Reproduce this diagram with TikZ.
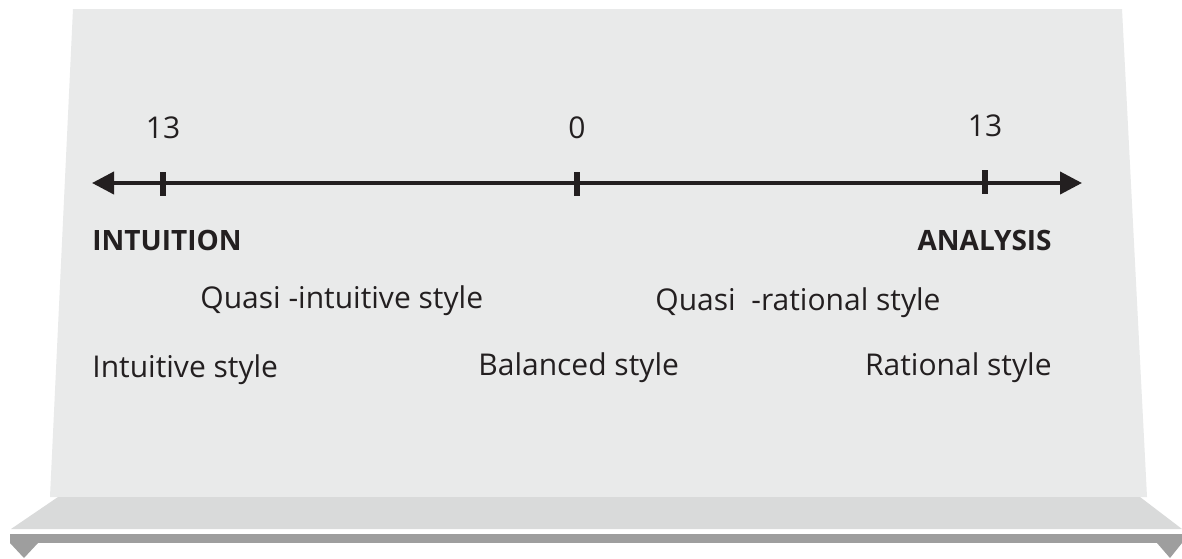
\documentclass[tikz,border=0pt]{standalone}
\usepackage{fontspec}
\setmainfont{Open Sans}
\usepackage{xcolor}
\usetikzlibrary{positioning,arrows.meta}
\definecolor{ink}{HTML}{231F20}
\definecolor{panelgray}{HTML}{E9EAEA}
\definecolor{shelfgray}{HTML}{D9DADA}
\definecolor{bargray}{HTML}{9E9E9E}

\begin{document}
\begin{tikzpicture}[
  x=0.5pt, y=-0.5pt,
  lbl/.style={font=\fontsize{15}{18}\selectfont, text=ink, inner sep=0pt},
  pole/.style={lbl, font=\fontsize{14}{17}\selectfont\bfseries},
  axis/.style={{Triangle[length=11pt,width=11pt]}-{Triangle[length=11pt,width=11pt]}, line width=2pt, draw=ink},
  tickmark/.style={fill=ink, inner sep=0pt, minimum width=2.6pt, minimum height=12pt}
]
% page and background panel
\fill[white] (0,0) rectangle (1182,558);
\useasboundingbox (0,0) rectangle (1182,558);
\fill[panelgray] (73,9) -- (1122,9) -- (1147,497) -- (50,497) -- cycle;
\fill[shelfgray] (58,497) -- (1140,497) -- (1182,529) -- (11,529) -- cycle;
\fill[bargray] (10,534) rectangle (1182,543);
\fill[bargray] (10,543) -- (38,543) -- (24,558) -- cycle;
\fill[bargray] (1157,543) -- (1182,543) -- (1170,558) -- cycle;

% scale
\coordinate (L) at (92,183);
\coordinate (R) at (1082,183);
\draw[axis] (L) -- (R);
\node[tickmark] (tl) at (163,184) {};
\node[tickmark] (tm) at (577,184) {};
\node[tickmark] (tr) at (985,182) {};
\node[lbl, above=16pt of tl] (nl) {13};
\node[lbl, above=16pt of tm] (nm) {0};
\node[lbl, above=16pt of tr] (nr) {13};

% poles
\node[pole, anchor=base west] (intu) at (92,250) {INTUITION};
\node[pole, anchor=base east] (anal) at (1052,250) {ANALYSIS};

% styles
\node[lbl, anchor=base west] (qint) at (200,308) {Quasi -intuitive style};
\node[lbl, anchor=base west] (qrat) at (655,310) {Quasi\ \ -rational style};
\node[lbl, anchor=base west] (int) at (92,377) {Intuitive style};
\node[lbl, anchor=base west] (bal) at (478,375) {Balanced style};
\node[lbl, anchor=base east] (rat) at (1052,375) {Rational style};
\end{tikzpicture}
\end{document}
